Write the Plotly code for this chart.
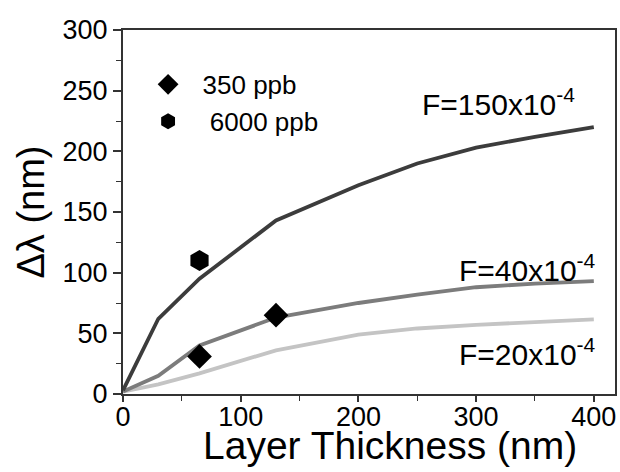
import plotly.graph_objects as go

# Model curves (layer thickness in nm, shift in nm)
thickness = [0, 30, 65, 130, 200, 250, 300, 350, 400]
f150 = [3, 62, 95, 143, 172, 190, 203, 212, 220]
f40 = [2, 15, 40, 63, 75, 82, 88, 91, 93]
f20 = [2, 8, 17, 36, 49, 54, 57, 59.5, 61.5]

# Measurements
x_350 = [65, 130]
y_350 = [31, 65]
x_6000 = [65]
y_6000 = [110]

curve_labels = ["F=150x10<sup>-4</sup>", "F=40x10<sup>-4</sup>", "F=20x10<sup>-4</sup>"]
label_x = [319, 344, 344]
label_y = [241, 104, 35]

x_title = "Layer Thickness (nm)"
y_title = "Δλ (nm)"

FONT = "Liberation Sans, Arial, sans-serif"

fig = go.Figure()
fig.add_trace(go.Scatter(x=thickness, y=f20, mode="lines", line=dict(color="#c4c4c4", width=3.8), showlegend=False))
fig.add_trace(go.Scatter(x=thickness, y=f40, mode="lines", line=dict(color="#7c7c7c", width=3.8), showlegend=False))
fig.add_trace(go.Scatter(x=thickness, y=f150, mode="lines", line=dict(color="#3c3c3c", width=3.8), showlegend=False))
fig.add_trace(go.Scatter(x=x_350, y=y_350, mode="markers", name="&nbsp;&nbsp;350 ppb",
                         marker=dict(symbol="diamond", size=19, color="black")))
fig.add_trace(go.Scatter(x=x_6000, y=y_6000, mode="markers", name="&nbsp;&nbsp;&nbsp;6000 ppb",
                         marker=dict(symbol="hexagon", size=21, color="black")))

for t, ax, ay in zip(curve_labels, label_x, label_y):
    fig.add_annotation(x=ax, y=ay, text=t, showarrow=False, font=dict(size=30, color="black", family=FONT))

# x-axis title placed as paper annotation so it can sit tight under the tick labels
fig.add_annotation(xref="paper", yref="paper", x=0.5417, y=-0.142, text=x_title, showarrow=False,
                   xanchor="center", yanchor="middle", font=dict(size=39, color="black", family=FONT))

axis_common = dict(
    showline=True, linecolor="#333", linewidth=2, mirror=True,
    ticks="outside", tickwidth=1.5, tickcolor="#333",
    showgrid=False, zeroline=False, automargin=False,
    tickfont=dict(size=27, color="black", family=FONT),
)

fig.update_xaxes(range=[0, 418], dtick=100, tick0=0, ticklen=6, ticklabelstandoff=-8,
                 minor=dict(ticks="outside", ticklen=5, dtick=50, tickcolor="#333", tickwidth=1.2),
                 **axis_common)
fig.update_yaxes(range=[0, 300], dtick=50, tick0=0, ticklen=8,
                 minor=dict(ticks="outside", ticklen=5, dtick=25, tickcolor="#333", tickwidth=1.2),
                 title=dict(text=y_title, font=dict(size=38, color="black", family=FONT), standoff=6),
                 **axis_common)

fig.update_layout(
    width=620, height=472,
    margin=dict(l=123, r=5, t=30, b=78),
    paper_bgcolor="white", plot_bgcolor="white",
    font=dict(family=FONT, color="black"),
    legend=dict(x=0.051, y=0.915, xanchor="left", yanchor="top", bgcolor="rgba(0,0,0,0)",
                font=dict(size=26, color="black", family=FONT), itemwidth=30, tracegroupgap=0),
)

fig.write_html("out.html", config={"displayModeBar": False},
               post_script="document.body.style.margin='0';document.body.style.overflow='hidden';")
